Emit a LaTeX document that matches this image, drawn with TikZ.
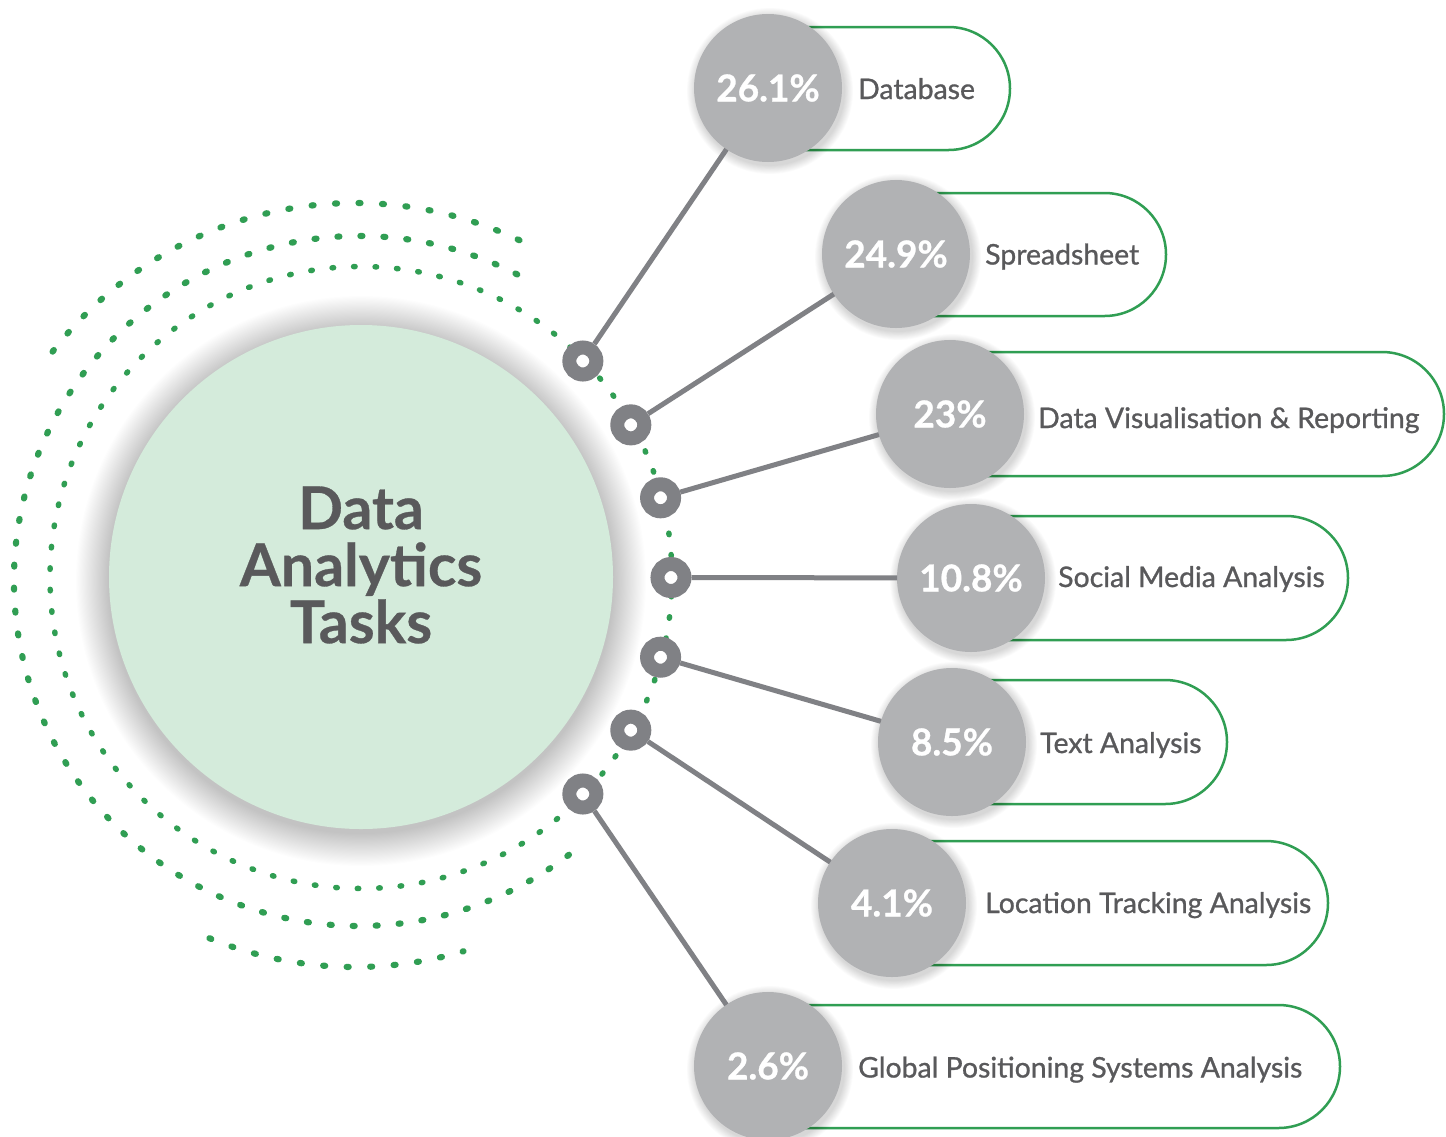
\documentclass[tikz,border=0pt]{standalone}
\usepackage{fontspec}
\setmainfont{Lato}
\newfontfamily\lblfont[FakeBold=0.9]{Lato}
\definecolor{dgreen}{RGB}{48,158,83}
\definecolor{lgreen}{RGB}{212,235,219}
\definecolor{pgray}{RGB}{177,178,180}
\definecolor{rgray}{RGB}{128,129,133}
\definecolor{tgray}{RGB}{89,89,91}
\newcommand\pillpath[4]{\draw[pill] (#1,-#2) -- ({#4-(#3-#2)/2},-#2) arc[start angle=90,end angle=-90,radius={(#3-#2)/2}] -- (#1,-#3) -- cycle;}
\newcommand\pctshadow[2]{\foreach \k in {1,...,10}{\fill[black,opacity=0.014] (#1+2,-#2-3) circle ({74+\k*0.9});}}
\tikzset{
 dotarc/.style={draw=dgreen, line width=6.2pt, line cap=round, dash pattern=on 2pt off 21pt},
 pctc/.style={circle, fill=pgray, minimum size=148pt, inner sep=0pt, outer sep=0pt, text=white, font=\fontsize{37}{42}\selectfont\bfseries\addfontfeature{FakeBold=0.8}},
 ring/.style={circle, draw=rgray, line width=14pt, fill=white, minimum size=27pt, inner sep=0pt},
 conn/.style={draw=rgray, line width=5pt},
 pill/.style={draw=dgreen, line width=2.5pt, fill=white},
 lbl/.style={anchor=base west, text=tgray, font=\lblfont\fontsize{28.4}{32}\selectfont, inner sep=0pt},
 title/.style={align=center, text=tgray, font=\fontsize{59}{57}\selectfont\bfseries\addfontfeature{FakeBold=0.5}, inner sep=0pt},
}
\begin{document}
\begin{tikzpicture}[x=1pt,y=1pt]
\fill[white] (0,0) rectangle (1446,-1136);
\useasboundingbox (0,0) rectangle (1446,-1136);
% dotted arcs
\draw[dotarc, dash pattern=on 1.5pt off 20pt, line width=5.5pt] (361,-577.5) circle (311);
\draw[dotarc] (359,-581) ++(62.7:345) arc[start angle=62.7, end angle=309, radius=345];
\draw[dotarc, dash pattern=on 2pt off 21.5pt] (355,-585) ++(64.5:382) arc[start angle=64.5, end angle=145.2, radius=382];
\draw[dotarc, dash pattern=on 2pt off 21.5pt] (355,-585) ++(247.6:382) arc[start angle=247.6, end angle=286.5, radius=382];
% main circle with soft shadow
\foreach \k in {1,...,30}{\fill[black,opacity=0.006] (361,-581) circle ({252+\k*1.1});}
\node[circle, fill=lgreen, minimum size=504pt, inner sep=0pt] (main) at (361,-577) {};
\node[title] (title) at (361,-565) {Data\\Analytics\\Tasks};
% pills
\pillpath{768}{27}{150}{1010}
\pillpath{896}{193}{316}{1166}
\pillpath{950}{352}{476}{1444}
\pillpath{971}{516}{640}{1348}
\pillpath{952}{680}{804}{1227}
\pillpath{892}{841}{965}{1328}
\pillpath{768}{1005}{1128}{1340}
% labels
\node[lbl] (l1) at (858,-99) {Database};
\node[lbl] (l2) at (985,-264.5) {Spreadsheet};
\node[lbl] (l3) at (1038,-428) {Data Visualisation \& Reporting};
\node[lbl] (l4) at (1058,-587) {Social Media Analysis};
\node[lbl] (l5) at (1040,-753) {Text Analysis};
\node[lbl] (l6) at (985,-913) {Location Tracking Analysis};
\node[lbl] (l7) at (858,-1077.5) {Global Positioning Systems Analysis};
% percentage circles
\pctshadow{768}{88}
\node[pctc] (p1) at (768,-88) {26.1\%};
\pctshadow{896}{254}
\node[pctc] (p2) at (896,-254) {24.9\%};
\pctshadow{950}{414}
\node[pctc] (p3) at (950,-414) {23\%};
\pctshadow{971}{578}
\node[pctc] (p4) at (971,-578) {10.8\%};
\pctshadow{952}{742}
\node[pctc] (p5) at (952,-742) {8.5\%};
\pctshadow{892}{903}
\node[pctc] (p6) at (892,-903) {4.1\%};
\pctshadow{768}{1066}
\node[pctc] (p7) at (768,-1066) {2.6\%};
% rings
\node[ring] (r1) at ([shift={(361,-577.5)}]44.3:310) {};
\node[ring] (r2) at ([shift={(361,-577.5)}]29.5:310) {};
\node[ring] (r3) at ([shift={(361,-577.5)}]14.9:310) {};
\node[ring] (r4) at ([shift={(361,-577.5)}]0:310) {};
\node[ring] (r5) at ([shift={(361,-577.5)}]-14.9:310) {};
\node[ring] (r6) at ([shift={(361,-577.5)}]-29.5:310) {};
\node[ring] (r7) at ([shift={(361,-577.5)}]-44.3:310) {};
% connectors
\draw[conn] (r1) -- (p1);
\draw[conn] (r2) -- (p2);
\draw[conn] (r3) -- (p3);
\draw[conn] (r4) -- (p4);
\draw[conn] (r5) -- (p5);
\draw[conn] (r6) -- (p6);
\draw[conn] (r7) -- (p7);
\end{tikzpicture}
\end{document}
